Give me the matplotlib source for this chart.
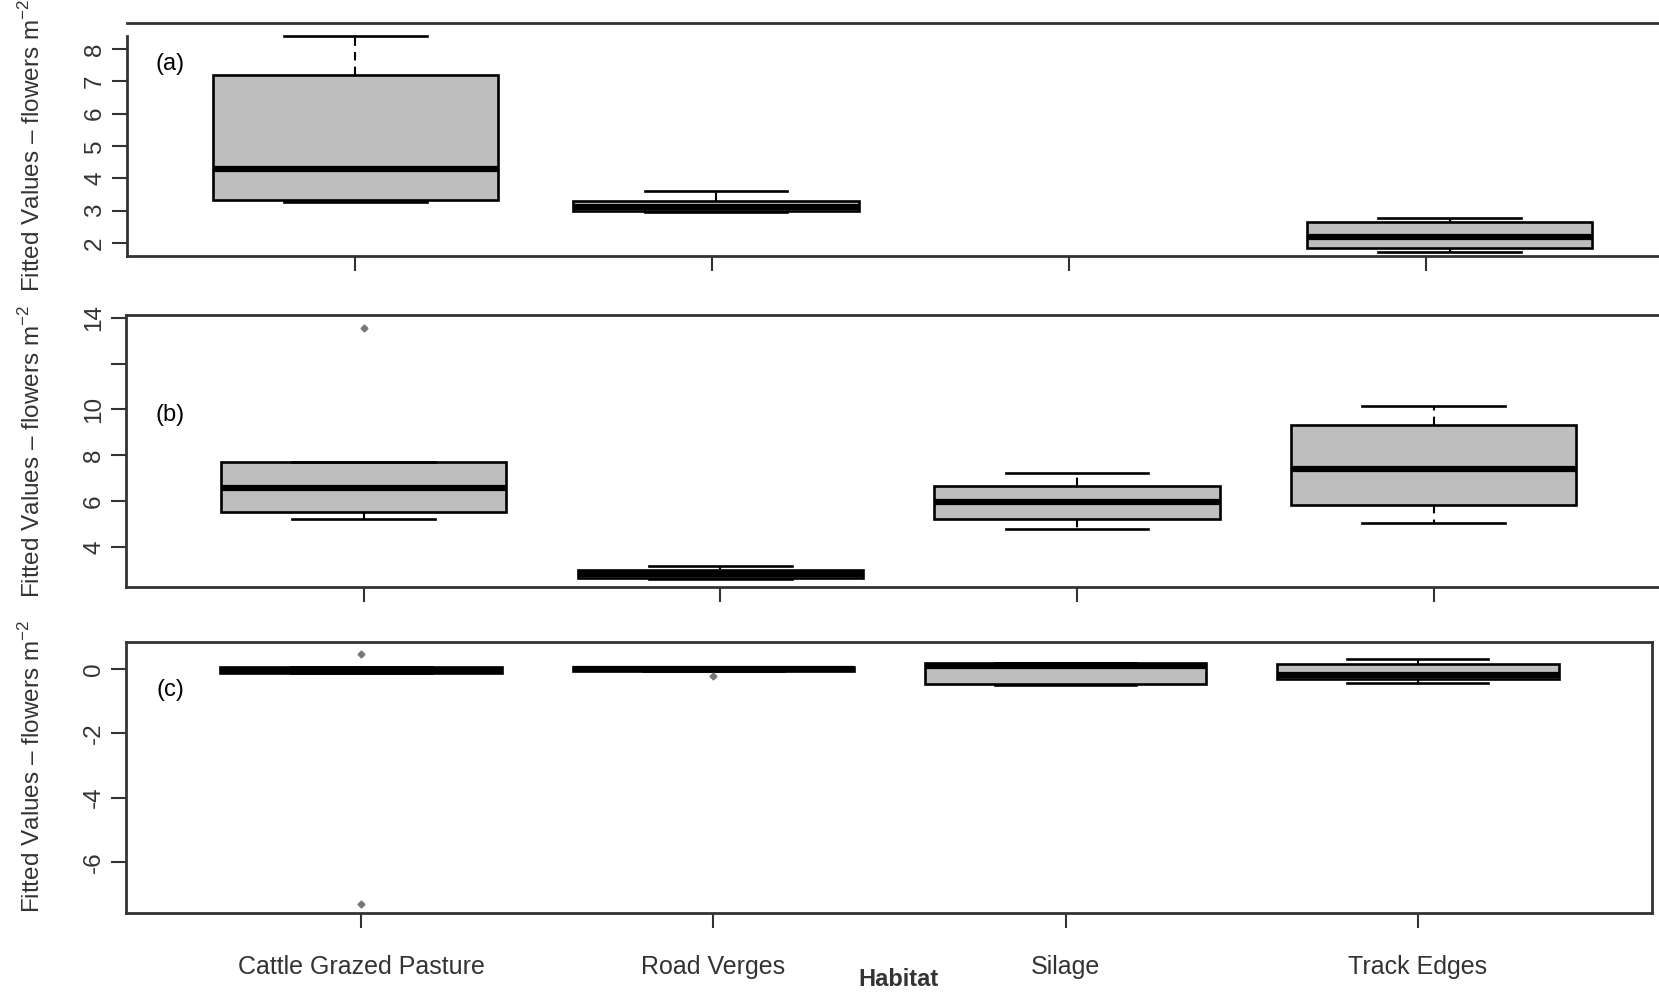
import numpy as np
import matplotlib.pyplot as plt

plt.rcParams['font.family'] = ['Liberation Sans', 'DejaVu Sans']
plt.rcParams['mathtext.fontset'] = 'custom'
plt.rcParams['mathtext.rm'] = 'Liberation Sans'

W, H = 1659, 992

habitats = ['Cattle Grazed Pasture', 'Road Verges', 'Silage', 'Track Edges']

# panel (a) - no silage box
a_lo = [3.28, 2.96, None, 1.73]
a_q1 = [3.33, 2.99, None, 1.86]
a_med = [4.30, 3.12, None, 2.19]
a_q3 = [7.18, 3.30, None, 2.65]
a_hi = [8.39, 3.61, None, 2.76]
a_out = [[], [], [], []]
a_ticks = [2, 3, 4, 5, 6, 7, 8]

# panel (b)
b_lo = [5.20, 2.60, 4.76, 5.06]
b_q1 = [5.53, 2.66, 5.20, 5.82]
b_med = [6.55, 2.83, 5.96, 7.42]
b_q3 = [7.72, 3.00, 6.67, 9.32]
b_hi = [7.72, 3.18, 7.21, 10.15]
b_out = [[13.56], [], [], []]
b_ticks = [4, 6, 8, 10, 12, 14]
b_ticklabels = ['4', '6', '8', '10', '', '14']

# panel (c)
c_lo = [-0.12, -0.07, -0.50, -0.45]
c_q1 = [-0.12, -0.07, -0.47, -0.31]
c_med = [-0.04, 0.00, 0.10, -0.20]
c_q3 = [0.04, 0.06, 0.18, 0.16]
c_hi = [0.04, 0.06, 0.18, 0.31]
c_out = [[0.47, -7.29], [-0.23], [], []]
c_ticks = [0, -2, -4, -6]

ylab = 'Fitted Values \u2013 flowers m$^{-2}$'
ink = '#333333'


def px_axes(fig, left, top, right, bottom):
    return fig.add_axes([left / W, 1 - bottom / H, (right - left) / W, (bottom - top) / H])


def draw_panel(ax, lo, q1, med, q3, hi, out, shift=None):
    stats, pos = [], []
    for i in range(len(habitats)):
        if med[i] is None:
            continue
        stats.append(dict(med=med[i], q1=q1[i], q3=q3[i], whislo=lo[i], whishi=hi[i],
                          fliers=out[i], label=habitats[i]))
        pos.append(i + 1 + (shift[i] if shift else 0))
    ax.bxp(stats, positions=pos, widths=0.8, capwidths=0.4, patch_artist=True,
           boxprops=dict(facecolor='#bebebe', edgecolor='black', linewidth=1.9),
           medianprops=dict(color='black', linewidth=4.5, solid_capstyle='butt'),
           whiskerprops=dict(color='black', linewidth=1.5, linestyle=(0, (4, 3))),
           capprops=dict(color='black', linewidth=1.9),
           flierprops=dict(marker='D', markersize=3.5, markerfacecolor='#777777',
                           markeredgecolor='#777777'))
    ax.set_xticks(range(1, len(habitats) + 1))
    ax.set_xticklabels([])
    for s in ax.spines.values():
        s.set_color(ink)
        s.set_linewidth(2)
    ax.tick_params(axis='both', length=11, width=1.5, color=ink, labelcolor=ink,
                   labelsize=17.5)
    ax.tick_params(axis='y', pad=4)


fig = plt.figure(figsize=(W / 100, H / 100), dpi=100)

ax_a = px_axes(fig, 127, 23, 1662, 256)
draw_panel(ax_a, a_lo, a_q1, a_med, a_q3, a_hi, a_out, shift=[0, 0.01, 0, 0.065])
ax_a.set_xlim(0.36, 4.66)
ax_a.set_ylim(1.6, 8.8)
ax_a.set_yticks(a_ticks)
ax_a.set_yticklabels([str(t) for t in a_ticks], rotation=90, va='center')
ax_a.spines['left'].set_bounds(1.6, 8.4)

ax_b = px_axes(fig, 126, 315, 1669, 587)
draw_panel(ax_b, b_lo, b_q1, b_med, b_q3, b_hi, b_out)
ax_b.set_xlim(0.334, 4.66)
ax_b.set_ylim(2.25, 14.12)
ax_b.set_yticks(b_ticks)
ax_b.set_yticklabels(b_ticklabels, rotation=90, va='center')

ax_c = px_axes(fig, 126, 642, 1652, 913)
draw_panel(ax_c, c_lo, c_q1, c_med, c_q3, c_hi, c_out)
ax_c.set_xlim(0.332, 4.665)
ax_c.set_ylim(-7.58, 0.83)
ax_c.set_yticks(c_ticks)
ax_c.set_yticklabels([str(t) for t in c_ticks], rotation=90, va='center')
ax_c.set_xticklabels(habitats, fontsize=18, color=ink)
ax_c.tick_params(axis='x', pad=19)

# panel letters and shared labels
for lab, y in [('(a)', 64), ('(b)', 415), ('(c)', 690)]:
    fig.text(170 / W, 1 - y / H, lab, fontsize=17, ha='center', va='center', color='black')
for y in [145, 451, 766]:
    fig.text(32 / W, 1 - y / H, ylab, fontsize=17.5, rotation=90, ha='center', va='center',
             color=ink)
fig.text(898 / W, 1 - 980 / H, 'Habitat', fontsize=17, weight='bold', ha='center',
         va='center', color=ink)

fig.savefig('out.png', dpi=100)
